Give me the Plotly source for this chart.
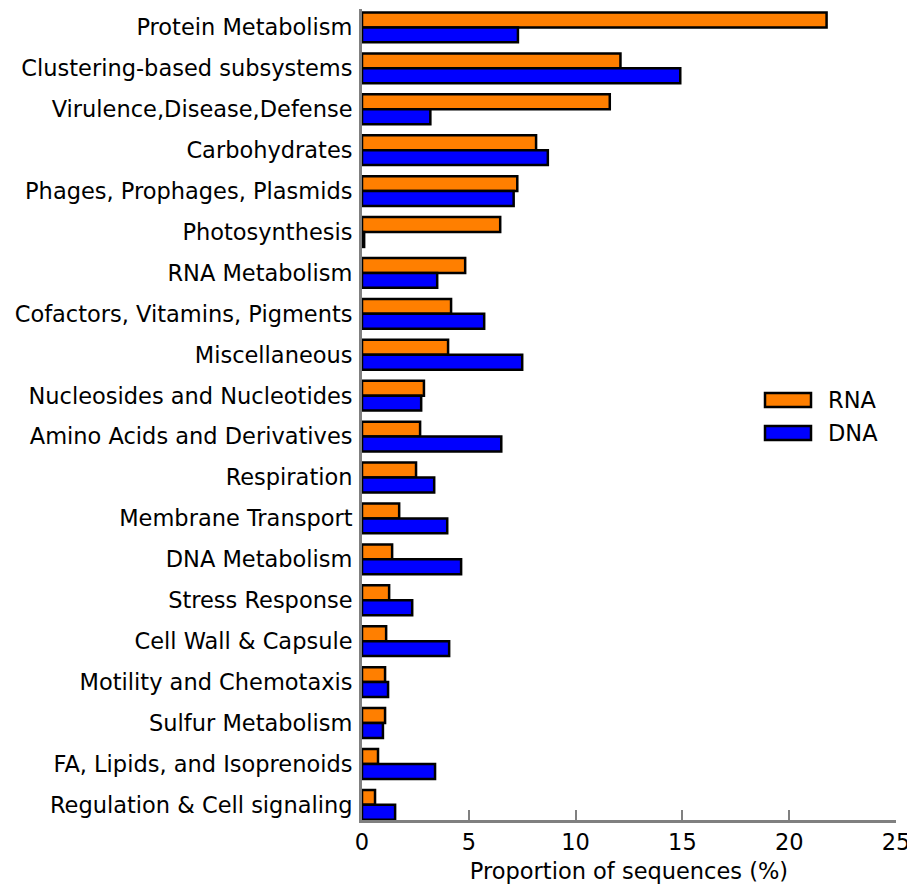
import plotly.graph_objects as go

categories = [
    "Protein Metabolism", "Clustering-based subsystems", "Virulence,Disease,Defense",
    "Carbohydrates", "Phages, Prophages, Plasmids", "Photosynthesis", "RNA Metabolism",
    "Cofactors, Vitamins, Pigments", "Miscellaneous", "Nucleosides and Nucleotides",
    "Amino Acids and Derivatives", "Respiration", "Membrane Transport", "DNA Metabolism",
    "Stress Response", "Cell Wall & Capsule", "Motility and Chemotaxis",
    "Sulfur Metabolism", "FA, Lipids, and Isoprenoids", "Regulation & Cell signaling",
]
rna = [21.75, 12.1, 11.6, 8.15, 7.27, 6.47, 4.83, 4.17, 4.03, 2.9,
       2.72, 2.53, 1.74, 1.41, 1.27, 1.13, 1.08, 1.08, 0.75, 0.61]
dna = [7.3, 14.9, 3.2, 8.7, 7.1, 0.1, 3.52, 5.72, 7.5, 2.77,
       6.52, 3.38, 3.99, 4.64, 2.35, 4.08, 1.22, 0.98, 3.42, 1.55]
x_ticks = [0, 5, 10, 15, 20, 25]

FONT = "DejaVu Sans"
FS = 22.5
ORANGE = "#FF7F00"
BLUE = "#0000FF"

fig = go.Figure()
fig.add_trace(go.Bar(y=categories, x=rna, orientation="h", name="RNA",
                     marker=dict(color=ORANGE, line=dict(color="black", width=2.5))))
fig.add_trace(go.Bar(y=categories, x=dna, orientation="h", name="DNA",
                     marker=dict(color=BLUE, line=dict(color="black", width=2.5))))

# page body has an 8px margin, so the figure is 8px smaller than the window
fig.update_layout(
    width=907, height=876,
    margin=dict(l=354, r=19, t=1, b=64),
    barmode="group", bargap=0.27, bargroupgap=0,
    plot_bgcolor="white", paper_bgcolor="white",
    showlegend=False,
    font=dict(family=FONT, size=FS, color="black"),
)
fig.update_xaxes(
    automargin=False,
    range=[0, 25], tickvals=x_ticks, ticktext=[str(v) for v in x_ticks],
    showgrid=False, zeroline=False,
    showline=True, linecolor="#808080", linewidth=3,
    ticks="inside", ticklen=10, tickwidth=2, tickcolor="#808080",
    tickfont=dict(family=FONT, size=FS),
    title=dict(text="Proportion of sequences (%)", font=dict(family=FONT, size=FS), standoff=10),
)
fig.update_yaxes(
    automargin=False,
    categoryorder="array", categoryarray=categories,
    range=[len(categories) - 1 + 0.37, -0.45],
    showgrid=False, zeroline=False,
    showline=True, linecolor="#808080", linewidth=3,
    ticks="", ticklabelstandoff=2,
    tickfont=dict(family=FONT, size=FS),
)

# legend drawn as swatches + labels
legend_items = [("RNA", ORANGE), ("DNA", BLUE)]
for i, (name, col) in enumerate(legend_items):
    yc = 400 + i * 33
    fig.add_shape(type="rect", xref="paper", yref="paper",
                  x0=(765 - 362) / 534, x1=(811 - 362) / 534,
                  y0=(820 - (yc - 7)) / 811, y1=(820 - (yc + 7)) / 811,
                  fillcolor=col, line=dict(color="black", width=2.5))
    fig.add_annotation(xref="paper", yref="paper", x=(826 - 362) / 534,
                       y=(820 - yc) / 811, text=name, showarrow=False,
                       xanchor="left", yanchor="middle",
                       font=dict(family=FONT, size=FS, color="black"))

fig.write_html("out.html")
